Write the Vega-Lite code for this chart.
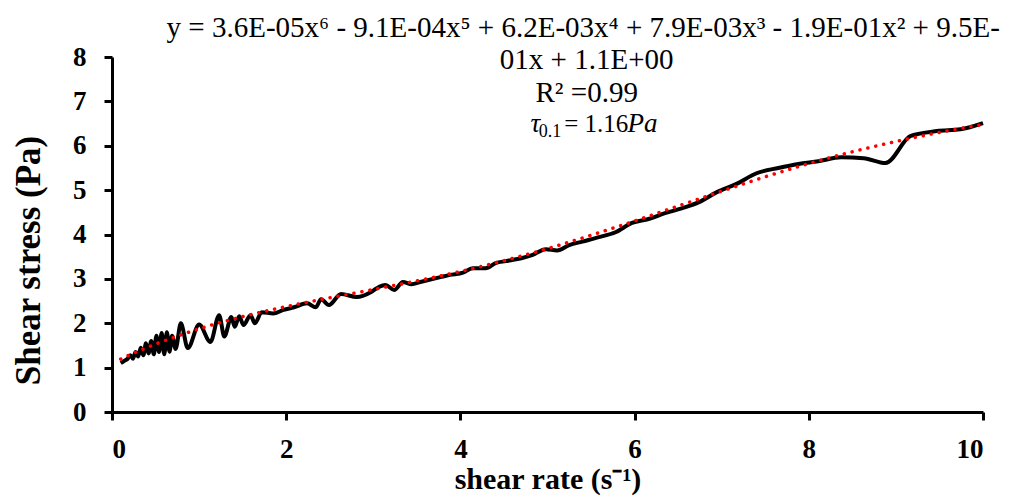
{
  "$schema": "https://vega.github.io/schema/vega-lite/v6.json",
  "autosize": "none",
  "width": 871,
  "height": 355,
  "padding": {"left": 112, "top": 57, "right": 26, "bottom": 85},
  "background": "white",
  "config": {
    "view": {"stroke": null},
    "font": "Liberation Serif",
    "axis": {
      "grid": false,
      "domainColor": "black",
      "domainWidth": 3,
      "tickColor": "black",
      "tickWidth": 3,
      "tickSize": 8,
      "labelFont": "Liberation Serif",
      "labelFontWeight": "bold",
      "labelFontSize": 27,
      "labelColor": "black",
      "titleFont": "Liberation Serif",
      "titleFontWeight": "bold",
      "titleFontSize": 30,
      "titleColor": "black"
    }
  },
  "datasets": {
    "measured": [
      {"rate": 0.10, "stress": 1.10}, {"rate": 0.14, "stress": 1.15}, {"rate": 0.18, "stress": 1.20},
      {"rate": 0.21, "stress": 1.28}, {"rate": 0.24, "stress": 1.20}, {"rate": 0.27, "stress": 1.35},
      {"rate": 0.30, "stress": 1.25}, {"rate": 0.33, "stress": 1.45}, {"rate": 0.36, "stress": 1.28},
      {"rate": 0.39, "stress": 1.55}, {"rate": 0.42, "stress": 1.32}, {"rate": 0.45, "stress": 1.60},
      {"rate": 0.48, "stress": 1.30}, {"rate": 0.51, "stress": 1.72}, {"rate": 0.54, "stress": 1.35},
      {"rate": 0.57, "stress": 1.78}, {"rate": 0.60, "stress": 1.30}, {"rate": 0.63, "stress": 1.80},
      {"rate": 0.66, "stress": 1.36}, {"rate": 0.69, "stress": 1.72}, {"rate": 0.73, "stress": 1.42},
      {"rate": 0.79, "stress": 2.00}, {"rate": 0.87, "stress": 1.44}, {"rate": 1.00, "stress": 1.97},
      {"rate": 1.13, "stress": 1.58}, {"rate": 1.23, "stress": 2.18}, {"rate": 1.29, "stress": 1.70},
      {"rate": 1.37, "stress": 2.14}, {"rate": 1.41, "stress": 1.92}, {"rate": 1.46, "stress": 2.16},
      {"rate": 1.51, "stress": 1.96}, {"rate": 1.59, "stress": 2.18}, {"rate": 1.64, "stress": 2.00},
      {"rate": 1.72, "stress": 2.25}, {"rate": 1.85, "stress": 2.22}, {"rate": 1.97, "stress": 2.30},
      {"rate": 2.09, "stress": 2.36}, {"rate": 2.24, "stress": 2.45}, {"rate": 2.34, "stress": 2.36},
      {"rate": 2.40, "stress": 2.54}, {"rate": 2.49, "stress": 2.41}, {"rate": 2.63, "stress": 2.66},
      {"rate": 2.81, "stress": 2.59}, {"rate": 2.97, "stress": 2.70}, {"rate": 3.04, "stress": 2.79},
      {"rate": 3.14, "stress": 2.86}, {"rate": 3.24, "stress": 2.75}, {"rate": 3.34, "stress": 2.93},
      {"rate": 3.44, "stress": 2.88}, {"rate": 3.54, "stress": 2.93}, {"rate": 3.77, "stress": 3.04},
      {"rate": 3.88, "stress": 3.09}, {"rate": 4.03, "stress": 3.14}, {"rate": 4.14, "stress": 3.24},
      {"rate": 4.29, "stress": 3.24}, {"rate": 4.41, "stress": 3.36}, {"rate": 4.52, "stress": 3.40},
      {"rate": 4.71, "stress": 3.47}, {"rate": 4.83, "stress": 3.54}, {"rate": 4.98, "stress": 3.67},
      {"rate": 5.11, "stress": 3.64}, {"rate": 5.25, "stress": 3.76}, {"rate": 5.40, "stress": 3.84},
      {"rate": 5.59, "stress": 3.94}, {"rate": 5.78, "stress": 4.05}, {"rate": 5.97, "stress": 4.26},
      {"rate": 6.16, "stress": 4.35}, {"rate": 6.35, "stress": 4.48}, {"rate": 6.54, "stress": 4.59},
      {"rate": 6.74, "stress": 4.73}, {"rate": 6.94, "stress": 4.95}, {"rate": 7.17, "stress": 5.14},
      {"rate": 7.40, "stress": 5.38}, {"rate": 7.65, "stress": 5.50}, {"rate": 7.88, "stress": 5.59},
      {"rate": 8.11, "stress": 5.65}, {"rate": 8.37, "stress": 5.74}, {"rate": 8.63, "stress": 5.72},
      {"rate": 8.88, "stress": 5.61}, {"rate": 9.17, "stress": 6.22}, {"rate": 9.47, "stress": 6.33},
      {"rate": 9.74, "stress": 6.37}, {"rate": 10.0, "stress": 6.51}
    ],
    "fit": [
      {"rate": 0.10, "stress": 1.193}, {"rate": 0.25, "stress": 1.326}, {"rate": 0.50, "stress": 1.529},
      {"rate": 0.75, "stress": 1.711}, {"rate": 1.00, "stress": 1.873}, {"rate": 1.25, "stress": 2.019},
      {"rate": 1.50, "stress": 2.149}, {"rate": 2.00, "stress": 2.376}, {"rate": 2.50, "stress": 2.573},
      {"rate": 3.00, "stress": 2.761}, {"rate": 3.50, "stress": 2.955}, {"rate": 4.00, "stress": 3.168},
      {"rate": 4.50, "stress": 3.410}, {"rate": 5.00, "stress": 3.681}, {"rate": 5.50, "stress": 3.983},
      {"rate": 6.00, "stress": 4.305}, {"rate": 6.50, "stress": 4.641}, {"rate": 7.00, "stress": 4.977},
      {"rate": 7.50, "stress": 5.300}, {"rate": 8.00, "stress": 5.598}, {"rate": 8.50, "stress": 5.864},
      {"rate": 9.00, "stress": 6.095}, {"rate": 9.50, "stress": 6.300}, {"rate": 10.0, "stress": 6.480}
    ]
  },
  "layer": [
    {
      "data": {"name": "measured"},
      "mark": {"type": "line", "color": "black", "strokeWidth": 4, "interpolate": "monotone", "clip": false},
      "encoding": {
        "x": {
          "field": "rate", "type": "quantitative",
          "scale": {"domain": [0, 10], "nice": false},
          "axis": {"values": [0, 2, 4, 6, 8, 10], "format": "d", "title": "shear rate (s⁻¹)", "labelPadding": 16, "titlePadding": 2}
        },
        "y": {
          "field": "stress", "type": "quantitative",
          "scale": {"domain": [0, 8], "nice": false},
          "axis": {"values": [0, 1, 2, 3, 4, 5, 6, 7, 8], "format": "d", "title": "Shear stress (Pa)", "titleFontSize": 35, "labelPadding": 18, "titlePadding": 26, "titleY": 203}
        }
      }
    },
    {
      "data": {"name": "fit"},
      "mark": {"type": "line", "color": "#ff0000", "strokeWidth": 3.5, "strokeDash": [0.1, 8], "strokeCap": "round", "interpolate": "monotone"},
      "encoding": {
        "x": {"field": "rate", "type": "quantitative"},
        "y": {"field": "stress", "type": "quantitative"}
      }
    },
    {
      "data": {"values": [
        {"rate": 5.41, "stress": 8.65, "label": "y = 3.6E-05x⁶ - 9.1E-04x⁵ + 6.2E-03x⁴ + 7.9E-03x³ - 1.9E-01x² + 9.5E-"},
        {"rate": 5.45, "stress": 7.93, "label": "01x + 1.1E+00"},
        {"rate": 5.45, "stress": 7.19, "label": "R² =0.99"}
      ]},
      "mark": {"type": "text", "font": "Liberation Serif", "fontSize": 29, "color": "black", "align": "center", "baseline": "middle", "clip": false},
      "encoding": {
        "x": {"field": "rate", "type": "quantitative"},
        "y": {"field": "stress", "type": "quantitative"},
        "text": {"field": "label"}
      }
    },
    {
      "data": {"values": [
        {"rate": 4.86, "stress": 6.48, "label": "τ"},
        {"rate": 6.09, "stress": 6.48, "label": "Pa"}
      ]},
      "mark": {"type": "text", "font": "Liberation Serif", "fontStyle": "italic", "fontSize": 27, "color": "black", "align": "center", "baseline": "middle"},
      "encoding": {
        "x": {"field": "rate", "type": "quantitative"},
        "y": {"field": "stress", "type": "quantitative"},
        "text": {"field": "label"}
      }
    },
    {
      "data": {"values": [
        {"rate": 5.03, "stress": 6.32, "label": "0.1"}
      ]},
      "mark": {"type": "text", "font": "Liberation Serif", "fontSize": 18, "color": "black", "align": "center", "baseline": "middle"},
      "encoding": {
        "x": {"field": "rate", "type": "quantitative"},
        "y": {"field": "stress", "type": "quantitative"},
        "text": {"field": "label"}
      }
    },
    {
      "data": {"values": [
        {"rate": 5.56, "stress": 6.48, "label": "= 1.16"}
      ]},
      "mark": {"type": "text", "font": "Liberation Serif", "fontSize": 25, "color": "black", "align": "center", "baseline": "middle"},
      "encoding": {
        "x": {"field": "rate", "type": "quantitative"},
        "y": {"field": "stress", "type": "quantitative"},
        "text": {"field": "label"}
      }
    }
  ]
}
